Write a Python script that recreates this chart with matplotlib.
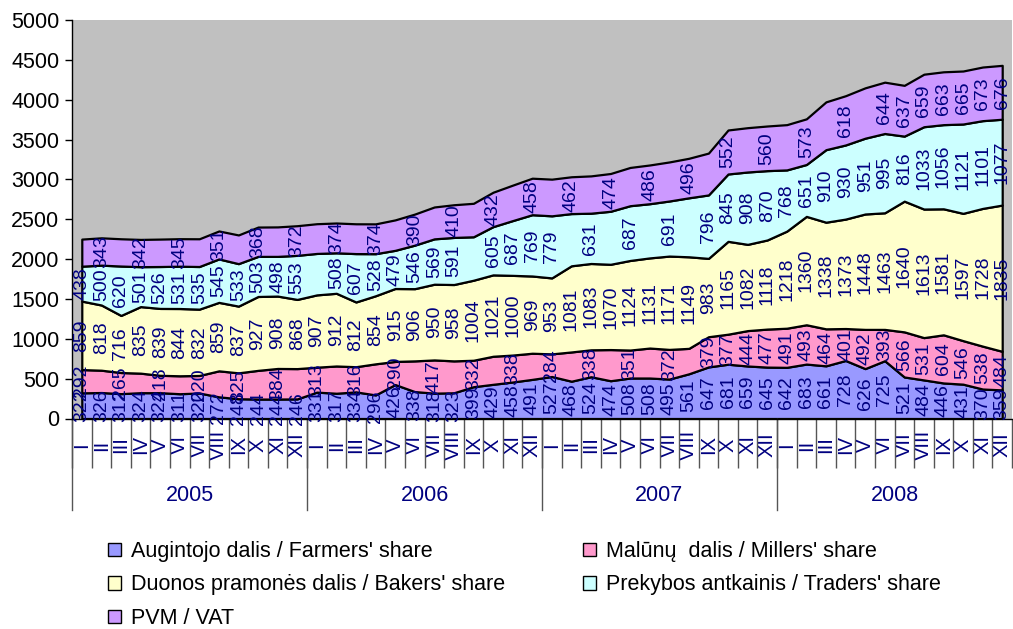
import numpy as np
import matplotlib
matplotlib.use('Agg')
from matplotlib import pyplot as plt
from matplotlib.patches import Patch

plt.rcParams['font.family'] = ['Liberation Sans', 'DejaVu Sans']

years = ['2005', '2006', '2007', '2008']
months = ['I', 'II', 'III', 'IV', 'V', 'VI', 'VII', 'VIII', 'IX', 'X', 'XI', 'XII']

farmers = [322, 326, 312, 324, 324, 311, 320, 272, 248, 244, 244, 246,
           331, 317, 334, 296, 426, 338, 318, 323, 399, 429, 458, 491,
           527, 468, 524, 474, 508, 508, 495, 561, 647, 681, 659, 645,
           642, 683, 661, 728, 626, 725, 521, 484, 446, 431, 370, 359]
millers = [292, 280, 265, 245, 218, 225, 220, 326, 325, 360, 384, 380,
           313, 342, 316, 390, 290, 385, 417, 400, 332, 352, 338, 328,
           284, 367, 338, 391, 351, 376, 372, 319, 379, 377, 444, 477,
           491, 493, 464, 401, 492, 393, 566, 531, 604, 546, 538, 484]
bakers = [859, 818, 716, 835, 839, 844, 832, 859, 837, 927, 908, 868,
          907, 912, 812, 854, 915, 906, 950, 958, 1004, 1021, 1000, 969,
          953, 1081, 1083, 1070, 1124, 1131, 1171, 1149, 983, 1165, 1082, 1118,
          1218, 1360, 1338, 1373, 1448, 1463, 1640, 1613, 1581, 1597, 1728, 1835]
traders = [438, 500, 620, 501, 526, 531, 535, 545, 533, 503, 498, 553,
           520, 508, 607, 528, 479, 546, 569, 591, 545, 605, 687, 769,
           779, 655, 631, 665, 687, 680, 691, 740, 796, 845, 908, 870,
           768, 651, 910, 930, 951, 995, 816, 1033, 1056, 1121, 1101, 1077]
vat = [340, 343, 342, 342, 344, 345, 348, 351, 360, 368, 370, 372,
       373, 374, 374, 374, 382, 390, 400, 410, 420, 432, 445, 458,
       460, 462, 468, 474, 480, 486, 490, 496, 525, 552, 556, 560,
       568, 573, 600, 618, 632, 644, 637, 659, 663, 665, 673, 676]

names = ["Augintojo dalis / Farmers' share",
         "Malūnų  dalis / Millers' share",
         "Duonos pramonės dalis / Bakers' share",
         "Prekybos antkainis / Traders' share",
         "PVM / VAT"]
colors = ['#9999FF', '#FF99CC', '#FFFFCC', '#CCFFFF', '#CC99FF']

# which points carry a data label (the others are hidden in the original)
n = len(farmers)
lbl_farmers = list(range(n))
lbl_millers = list(range(0, 33, 2)) + list(range(33, n))
lbl_bakers = list(range(n))
lbl_traders = [i for i in range(n) if i not in (12, 20, 25, 27, 29, 31)]
lbl_vat = list(range(1, 42, 2)) + list(range(42, n))

navy = '#000080'

fig = plt.figure(figsize=(10.13, 6.29), dpi=100)
ax = fig.add_axes([72 / 1013, 1 - 418.5 / 629, 940 / 1013, 398.5 / 629])
ax.set_facecolor('#C0C0C0')

x = np.arange(n)
series = [farmers, millers, bakers, traders, vat]
ax.stackplot(x, *series, colors=colors, edgecolor='black', linewidth=1.6)

# data labels in the middle of each band
labels_idx = [lbl_farmers, lbl_millers, lbl_bakers, lbl_traders, lbl_vat]
bottom = np.zeros(n)
for vals, idx in zip(series, labels_idx):
    vals = np.array(vals)
    for i in idx:
        ax.text(x[i], bottom[i] + vals[i] / 2, str(vals[i]), rotation=90,
                ha='center', va='center', color=navy, fontsize=14)
    bottom += vals

ax.set_xlim(-0.5, n - 0.5)
ax.set_ylim(0, 5000)
ax.set_yticks(np.arange(0, 5001, 500))
ax.tick_params(axis='y', labelsize=15.5, length=5, width=1, direction='out', pad=4)
for s in ['top', 'right']:
    ax.spines[s].set_visible(False)
ax.spines['left'].set_linewidth(1)
ax.spines['bottom'].set_linewidth(1)

# month labels at category centres, separators between categories
ax.set_xticks(x)
ax.set_xticklabels(months * len(years), rotation=90, color=navy, fontsize=14.5)
plt.setp(ax.get_xticklabels(), va='center')
ax.tick_params(axis='x', which='major', length=0, pad=19)
ax.set_xticks(np.arange(-0.5, n, 1), minor=True)
ax.tick_params(axis='x', which='minor', length=35, width=1, color='#555555')

# year separators and year labels
tr = ax.get_xaxis_transform()
for k, yr in enumerate(years):
    ax.plot([k * 12 - 0.5, k * 12 - 0.5], [0, -0.23], transform=tr,
            color='#555555', linewidth=1, clip_on=False)
    ax.text(k * 12 + 5.5, -0.192, yr, transform=tr, ha='center', va='center',
            color=navy, fontsize=15.5)

order = [0, 2, 4, 1, 3]
handles = [Patch(facecolor=colors[i], edgecolor='black', linewidth=1) for i in order]
fig.legend(handles, [names[i] for i in order], ncol=2, loc='upper left',
           bbox_to_anchor=(108 / 1013, 1 - 541 / 629), frameon=False,
           fontsize=15.5, handlelength=0.6, handleheight=0.6,
           handletextpad=0.45, columnspacing=3.65, labelspacing=0.58,
           borderpad=0, borderaxespad=0)

plt.savefig('out.png', dpi=100)
